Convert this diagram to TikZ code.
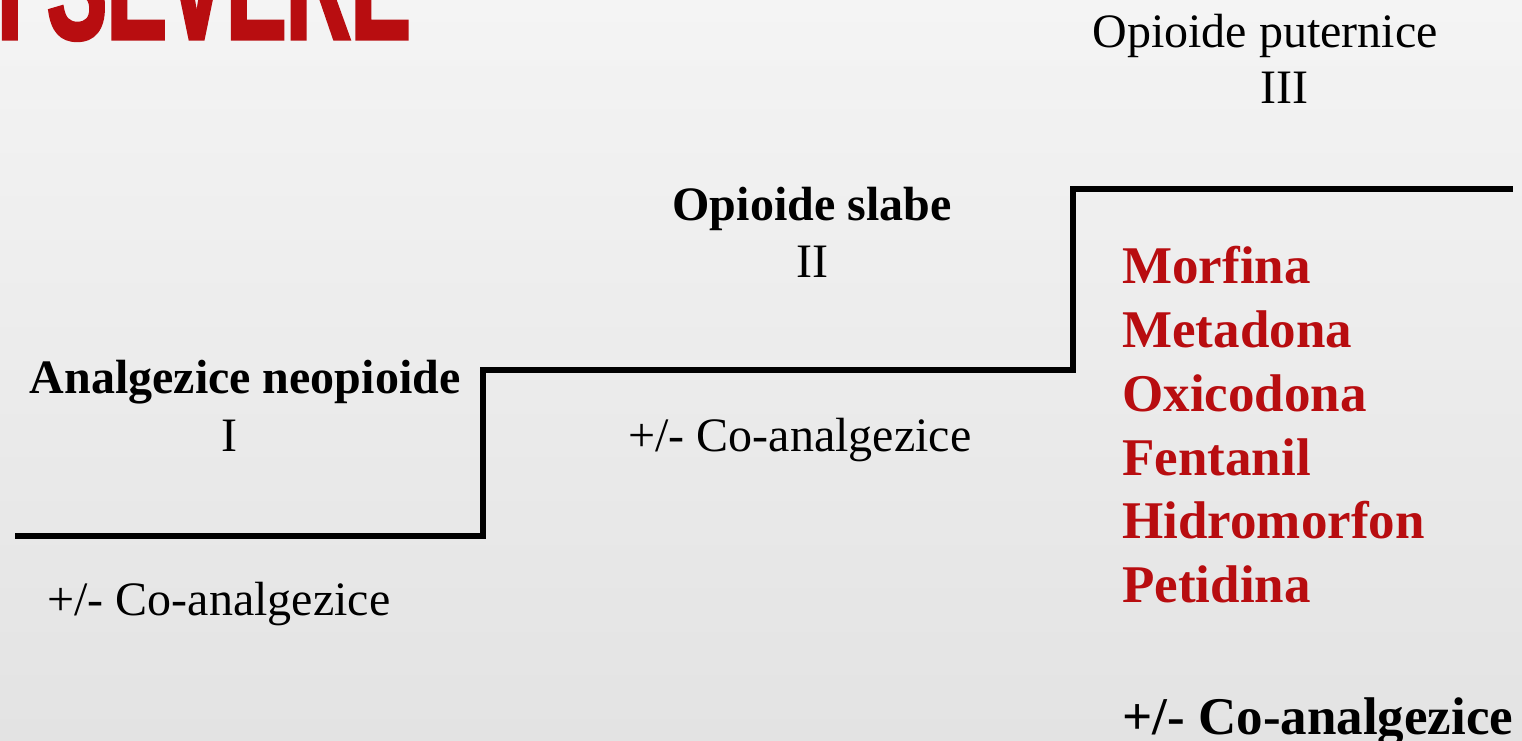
\documentclass[tikz,border=0pt]{standalone}
\usepackage{fontspec}
\setmainfont{Liberation Serif}
\newfontfamily\bannerfont[FakeStretch=0.56, FakeBold=2]{Liberation Sans}
\usepackage{tikz}
\usetikzlibrary{positioning}
\definecolor{slidered}{HTML}{B80D10}
\definecolor{slidetop}{HTML}{F4F4F4}
\definecolor{slidebottom}{HTML}{E3E3E3}

\begin{document}
\begin{tikzpicture}[x=0.5pt, y=-0.5pt,
    lbl/.style={inner sep=0pt, anchor=base, font=\fontsize{24}{28}\selectfont},
    lblbold/.style={lbl, font=\bfseries\fontsize{24}{28}\selectfont},
    drug/.style={inner sep=0pt, anchor=base west, text=slidered,
                 font=\bfseries\fontsize{26.5}{32}\selectfont},
    stair/.style={line width=2.8pt, line join=miter}]
  % background of the slide
  \shade[top color=slidetop, bottom color=slidebottom] (0,0) rectangle (1522,740);
  \useasboundingbox (0,0) rectangle (1522,740);
  \clip (0,0) rectangle (1522,740);

  % cut title
  \node[anchor=base west, inner sep=0pt, text=slidered,
        font=\bannerfont\bfseries\fontsize{80}{84}\selectfont] (banner) at (-3,39) {I SEVERE};

  % the three steps
  \coordinate (s0) at (15,536);
  \coordinate (s1) at (483,536);
  \coordinate (s2) at (483,370);
  \coordinate (s3) at (1073,370);
  \coordinate (s4) at (1073,189);
  \coordinate (s5) at (1513,189);
  \draw[stair] (s0) -- (s1) -- (s2) -- (s3) -- (s4) -- (s5);

  % step I
  \node[lblbold] (tier1) at (245,393) {Analgezice neopioide};
  \node[lbl] (tier1num) at (229.5,451) {I};
  \node[lbl] (co1) at (219,615) {+/- Co-analgezice};

  % step II
  \node[lblbold] (tier2) at (812,220) {Opioide slabe};
  \node[lbl] (tier2num) at (812,277) {II};
  \node[lbl] (co2) at (800,451) {+/- Co-analgezice};

  % step III
  \node[lbl] (tier3) at (1265,47) {Opioide puternice};
  \node[lbl] (tier3num) at (1284,103) {III};
  \foreach \drugname [count=\k] in {Morfina, Metadona, Oxicodona, Fentanil, Hidromorfon, Petidina}
    \node[drug] (drug\k) at (1122,{283.3+63.9*(\k-1)}) {\drugname};
  \node[drug, text=black] (co3) at (1122,734) {+/- Co-analgezice};
\end{tikzpicture}
\end{document}
